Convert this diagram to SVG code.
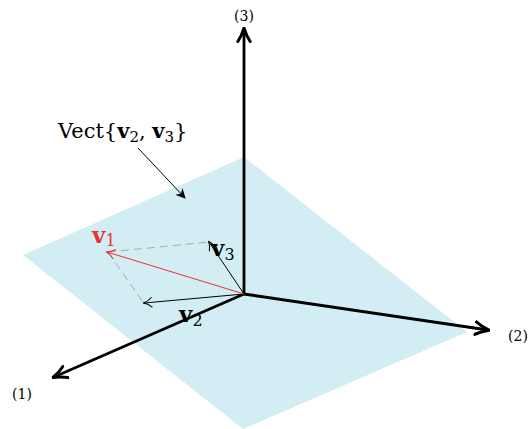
<svg xmlns="http://www.w3.org/2000/svg" width="530" height="429" viewBox="0 0 530 429">
<style>
.axis{stroke:#000;stroke-width:2.8;fill:none}
.vec{stroke:#000;stroke-width:1;fill:none}
.dash{stroke:#aaa;stroke-width:1;stroke-dasharray:8,5;fill:none}
.lbl{font-family:"DejaVu Serif","Liberation Serif",serif;font-size:14px;fill:#000}
.big{font-family:"DejaVu Serif","Liberation Serif",serif;font-size:21px;fill:#000}
.bv{font-weight:bold}
</style>
<defs>
<marker id="ah" markerWidth="12" markerHeight="12" refX="9" refY="5" orient="auto" markerUnits="userSpaceOnUse" viewBox="0 0 12 10">
<path d="M0,0 L10,5 L0,10 L3,5 Z" fill="#000"/>
</marker>
<marker id="ahAxis" markerWidth="16" markerHeight="16" refX="12" refY="7" orient="auto" markerUnits="userSpaceOnUse" viewBox="0 0 14 14">
<path d="M0,1 Q6,5 13,7 Q6,9 0,13" fill="none" stroke="#000" stroke-width="2.6"/>
</marker>
<marker id="ov" markerWidth="12" markerHeight="12" refX="9" refY="6" orient="auto" markerUnits="userSpaceOnUse" viewBox="0 0 12 12">
<path d="M1,1 Q5,5 10,6 Q5,7 1,11" fill="none" stroke="#000" stroke-width="1"/>
</marker>
<marker id="ovr" markerWidth="12" markerHeight="12" refX="9" refY="6" orient="auto" markerUnits="userSpaceOnUse" viewBox="0 0 12 12">
<path d="M1,1 Q5,5 10,6 Q5,7 1,11" fill="none" stroke="#e8322f" stroke-width="1"/>
</marker>
</defs>
<g id="plane">
<polygon points="244,157 467,332 243,429 23,255" fill="#d2edf3"/>
</g>
<g id="connectors">
<line class="axis" x1="244" y1="294" x2="244" y2="29" marker-end="url(#ahAxis)"/>
<line class="axis" x1="244" y1="294" x2="54" y2="377" marker-end="url(#ahAxis)"/>
<line class="axis" x1="244" y1="294" x2="488" y2="330" marker-end="url(#ahAxis)"/>
<line class="dash" x1="108" y1="252" x2="210" y2="242"/>
<line class="dash" x1="108" y1="252" x2="143" y2="302"/>
<line class="vec" x1="244" y1="294" x2="209" y2="242" marker-end="url(#ov)"/>
<line class="vec" x1="244" y1="294" x2="144" y2="303" marker-end="url(#ov)"/>
<line stroke="#e8322f" stroke-width="1" x1="244" y1="294" x2="107" y2="252" marker-end="url(#ovr)"/>
<line class="vec" x1="138" y1="148" x2="185" y2="198" marker-end="url(#ah)"/>
</g>
<g id="axis3-label"><text class="lbl" x="244" y="21" text-anchor="middle">(3)</text></g>
<g id="axis1-label"><text class="lbl" x="22" y="399" text-anchor="middle">(1)</text></g>
<g id="axis2-label"><text class="lbl" x="518" y="341" text-anchor="middle">(2)</text></g>
<g id="v1-label"><text class="big bv" x="92" y="243" style="fill:#e8322f;font-size:23px">v<tspan font-size="16" font-weight="normal" dy="3">1</tspan></text></g>
<g id="v3-label"><text class="big bv" x="211" y="256" style="font-size:23px">v<tspan font-size="16" font-weight="normal" dy="4">3</tspan></text></g>
<g id="v2-label"><text class="big bv" x="179" y="322" style="font-size:23px">v<tspan font-size="16" font-weight="normal" dy="4">2</tspan></text></g>
<g id="span-label"><text class="big" x="58" y="138">Vect{<tspan class="bv">v</tspan><tspan font-size="15" dy="4">2</tspan><tspan dy="-4">, </tspan><tspan class="bv">v</tspan><tspan font-size="15" dy="4">3</tspan><tspan dy="-4">}</tspan></text></g>
</svg>
